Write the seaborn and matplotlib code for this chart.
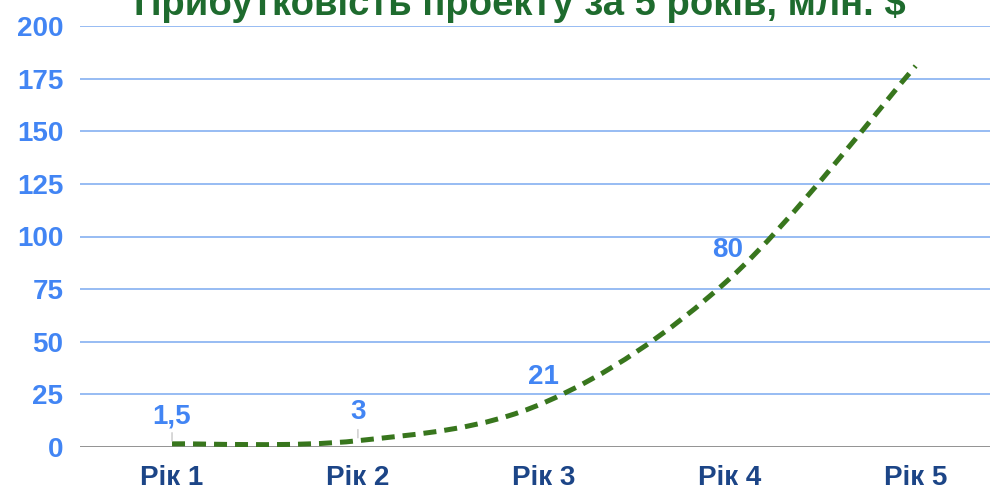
import numpy as np
import matplotlib
matplotlib.use("Agg")
import matplotlib.pyplot as plt
from matplotlib.path import Path
from matplotlib.patches import PathPatch
import seaborn as sns

# дані
years = ["Рік 1", "Рік 2", "Рік 3", "Рік 4", "Рік 5"]
profit = [1.5, 3, 21, 80, 181]
point_labels = ["1,5", "3", "21", "80", None]
title = "Прибутковість проекту за 5 років, млн. $"
y_ticks = [0, 25, 50, 75, 100, 125, 150, 175, 200]

sns.set_theme(style="white")
plt.rcParams["font.family"] = ["Liberation Sans", "DejaVu Sans"]

BLUE = "#4285f4"
NAVY = "#1c4587"
GREEN = "#38761d"

fig = plt.figure(figsize=(9.9, 4.92), dpi=100)
ax = fig.add_axes([80 / 990, 1 - 447 / 492, 910 / 990, (447 - 26) / 492])

x = np.arange(len(years))
y = np.array(profit, dtype=float)

# невидима основа, щоб задати осі через seaborn
sns.lineplot(x=x, y=y, ax=ax, lw=0)

# згладжена лінія (Catmull-Rom -> Bezier)
pts = np.column_stack([x, y])
verts = [pts[0]]
codes = [Path.MOVETO]
for i in range(len(pts) - 1):
    p0 = pts[max(i - 1, 0)]
    p1 = pts[i]
    p2 = pts[i + 1]
    p3 = pts[min(i + 2, len(pts) - 1)]
    verts += [p1 + (p2 - p0) / 6, p2 - (p3 - p1) / 6, p2]
    codes += [Path.CURVE4] * 3
patch = PathPatch(Path(verts, codes), facecolor="none", edgecolor=GREEN,
                  lw=3.6, linestyle=(0, (2.6, 1.6)), capstyle="butt", zorder=3)
ax.add_patch(patch)

ax.set_xlim(-0.495, 4.4)
ax.set_ylim(0, 200)
ax.set_yticks(y_ticks)
ax.set_xticks(x)
ax.set_xticklabels(years)

for yt in y_ticks[1:]:
    ax.axhline(yt, color="#7baaf0", lw=1.1, zorder=1)
ax.axhline(0, color="#8a8a8a", lw=1.3, zorder=2)

for s in ax.spines.values():
    s.set_visible(False)

ax.tick_params(axis="y", length=0, pad=12, labelsize=20, labelcolor=BLUE)
ax.tick_params(axis="x", length=0, pad=13, labelsize=20, labelcolor=NAVY)
for lab in ax.get_yticklabels() + ax.get_xticklabels():
    lab.set_fontweight("bold")

# підписи значень
offsets = [(0, 27), (0, 29), (0, 26), (-2, 29)]
for i, lab in enumerate(point_labels):
    if lab is None:
        continue
    dx, dy = offsets[i]
    ax.annotate(lab, (x[i], y[i]), xytext=(dx, dy), textcoords="offset pixels",
                ha="center", va="center", color=BLUE, fontsize=20,
                fontweight="bold", zorder=4)
    if i < 2:
        ax.annotate("", (x[i], y[i]), xytext=(0, 14), textcoords="offset pixels",
                    arrowprops=dict(arrowstyle="-", color="#bbbbbb", lw=0.8))

fig.text(0.525, 0.9695, title, ha="center", va="baseline", color="#1e6b2e",
         fontsize=27.5, fontweight="bold")

fig.savefig("out.png", dpi=100)
